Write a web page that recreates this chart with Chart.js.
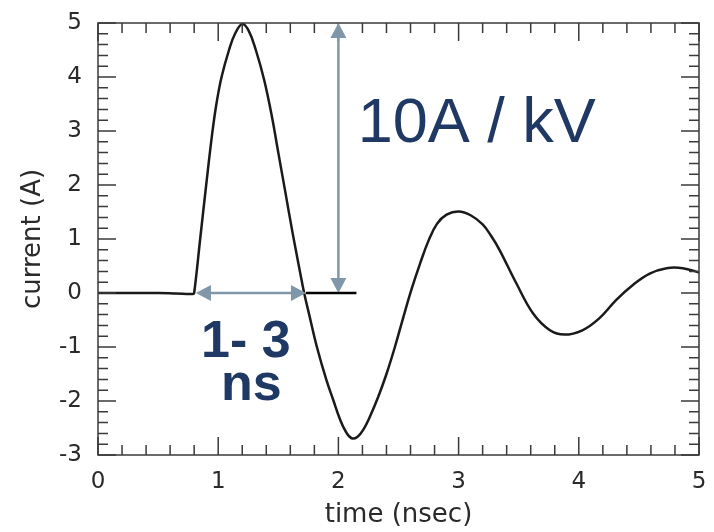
<!DOCTYPE html>
<html>
<head>
<meta charset="utf-8">
<script src="https://cdn.jsdelivr.net/npm/chart.js@4"></script>
<style>
  body { margin: 0; background: #ffffff; }
  #wrap { width: 714px; height: 532px; position: relative; }
</style>
</head>
<body>
<div id="wrap"><canvas id="pulse-chart"></canvas></div>
<script>
// time in nsec and current in A
const times = [
  0, 0.3, 0.5, 0.65, 0.79, 0.8, 0.85, 0.9, 0.95, 0.985, 1.028, 1.09, 1.14,
  1.2, 1.255, 1.313, 1.382, 1.444, 1.5, 1.56, 1.62, 1.68, 1.715, 1.757, 1.82,
  1.9, 1.96, 2.01, 2.06, 2.11, 2.16, 2.21, 2.26, 2.33, 2.4, 2.47, 2.54, 2.61, 2.68,
  2.75, 2.82, 2.9, 3.0, 3.1, 3.2, 3.27, 3.34, 3.48, 3.62, 3.76, 3.88, 4.03, 4.17, 4.31,
  4.45, 4.59, 4.73, 4.865, 5.0,
];
const currents = [
  0, 0, 0, -0.01, -0.02, 0, 1.0, 2.0, 2.95, 3.5, 4.0, 4.5, 4.8,
  4.98, 4.85, 4.5, 3.95, 3.3, 2.6, 1.85, 1.1, 0.4, 0, -0.4, -0.99,
  -1.61, -2.0, -2.32, -2.56, -2.69, -2.66, -2.52, -2.3, -1.93, -1.5, -1.0, -0.45, 0.08, 0.55,
  0.97, 1.28, 1.45, 1.51, 1.44, 1.27, 1.06, 0.8, 0.18, -0.38, -0.69, -0.77, -0.69, -0.47, -0.13,
  0.15, 0.36, 0.46, 0.46, 0.38,
];
const xTicks = [0, 1, 2, 3, 4, 5];
const yTicks = [-3, -2, -1, 0, 1, 2, 3, 4, 5];

const ink = "#1f3864";
const arrowColor = "#7f97a8";

// annotation anchors, in data units
const ampArrow = { x: 2.0, from: 5, to: 0 };
const riseArrow = { y: 0, from: 0.815, to: 1.73 };
const baseLine = { y: 0, from: 1.73, to: 2.15 };
const ampLabel = { text: "10A / kV", x: 2.16, y: 2.8 };
const riseLabel = [
  { text: "1- 3", x: 1.23, y: -1.185 },
  { text: "ns", x: 1.275, y: -1.98 },
];

function arrowHead(ctx, x, y, angle) {
  const len = 15;
  const half = 8;
  ctx.save();
  ctx.translate(x, y);
  ctx.rotate(angle);
  ctx.beginPath();
  ctx.moveTo(0, 0);
  ctx.lineTo(-len, -half);
  ctx.lineTo(-len, half);
  ctx.closePath();
  ctx.fill();
  ctx.restore();
}

function doubleArrow(ctx, x1, y1, x2, y2) {
  const angle = Math.atan2(y2 - y1, x2 - x1);
  const ux = Math.cos(angle) * 12;
  const uy = Math.sin(angle) * 12;
  ctx.beginPath();
  ctx.moveTo(x1 + ux, y1 + uy);
  ctx.lineTo(x2 - ux, y2 - uy);
  ctx.stroke();
  arrowHead(ctx, x2, y2, angle);
  arrowHead(ctx, x1, y1, angle + Math.PI);
}

const framePlugin = {
  id: "frame",
  afterDatasetsDraw(chart) {
    const { ctx, chartArea: a, scales } = chart;
    const sx = scales.x;
    const sy = scales.y;
    ctx.save();

    // box and inward ticks on all four sides
    ctx.strokeStyle = "#3a3a3a";
    ctx.lineWidth = 1.5;
    ctx.strokeRect(a.left, a.top, a.right - a.left, a.bottom - a.top);
    ctx.beginPath();
    const nx = Math.round((sx.max - sx.min) * 5);
    for (let i = 0; i <= nx; i++) {
      const px = sx.getPixelForValue(sx.min + i / 5);
      const len = i % 5 === 0 ? 18 : 10;
      ctx.moveTo(px, a.bottom);
      ctx.lineTo(px, a.bottom - len);
      ctx.moveTo(px, a.top);
      ctx.lineTo(px, a.top + len);
    }
    const ny = Math.round((sy.max - sy.min) * 5);
    for (let i = 0; i <= ny; i++) {
      const py = sy.getPixelForValue(sy.min + i / 5);
      const len = i % 5 === 0 ? 18 : 10;
      ctx.moveTo(a.left, py);
      ctx.lineTo(a.left + len, py);
      ctx.moveTo(a.right, py);
      ctx.lineTo(a.right - len, py);
    }
    ctx.stroke();

    // arrows
    ctx.strokeStyle = arrowColor;
    ctx.fillStyle = arrowColor;
    ctx.lineWidth = 2.5;
    const vx = sx.getPixelForValue(ampArrow.x);
    doubleArrow(ctx, vx, sy.getPixelForValue(ampArrow.to), vx, sy.getPixelForValue(ampArrow.from));
    const hy = sy.getPixelForValue(riseArrow.y);
    doubleArrow(ctx, sx.getPixelForValue(riseArrow.from), hy, sx.getPixelForValue(riseArrow.to), hy);

    ctx.strokeStyle = "#000000";
    ctx.beginPath();
    ctx.moveTo(sx.getPixelForValue(baseLine.from), sy.getPixelForValue(baseLine.y));
    ctx.lineTo(sx.getPixelForValue(baseLine.to), sy.getPixelForValue(baseLine.y));
    ctx.stroke();

    // labels
    ctx.fillStyle = ink;
    ctx.textBaseline = "alphabetic";
    ctx.textAlign = "left";
    ctx.font = "63px 'Liberation Sans', Arial, sans-serif";
    ctx.fillText(ampLabel.text, sx.getPixelForValue(ampLabel.x), sy.getPixelForValue(ampLabel.y));
    ctx.textAlign = "center";
    ctx.font = "bold 52px 'Liberation Sans', Arial, sans-serif";
    for (const line of riseLabel) {
      ctx.fillText(line.text, sx.getPixelForValue(line.x), sy.getPixelForValue(line.y));
    }
    ctx.restore();
  },
};

const tickFont = { family: "'DejaVu Sans', sans-serif", size: 23 };
const titleFont = { family: "'DejaVu Sans', sans-serif", size: 26 };

new Chart(document.getElementById("pulse-chart"), {
  type: "line",
  data: {
    datasets: [
      {
        data: times.map((t, i) => ({ x: t, y: currents[i] })),
        borderColor: "#1a1a1a",
        borderWidth: 2.5,
        pointRadius: 0,
        tension: 0.4,
        fill: false,
      },
    ],
  },
  options: {
    responsive: true,
    maintainAspectRatio: false,
    animation: false,
    layout: { padding: { top: 23, right: 15, bottom: 0, left: 0 } },
    plugins: { legend: { display: false }, tooltip: { enabled: false } },
    scales: {
      x: {
        type: "linear",
        min: 0,
        max: 5,
        afterBuildTicks: (scale) => {
          scale.ticks = xTicks.map((v) => ({ value: v }));
        },
        afterFit: (scale) => {
          scale.height = 77;
          scale.paddingLeft = 0;
          scale.paddingRight = 0;
        },
        grid: { display: false },
        border: { display: false },
        ticks: { color: "#2a2a2a", font: tickFont, padding: 5, maxRotation: 0 },
        title: {
          display: true,
          text: "time (nsec)",
          color: "#2a2a2a",
          font: titleFont,
          padding: { top: 0, bottom: 1 },
        },
      },
      y: {
        type: "linear",
        min: -3,
        max: 5,
        afterBuildTicks: (scale) => {
          scale.ticks = yTicks.map((v) => ({ value: v }));
        },
        afterFit: (scale) => {
          scale.width = 98;
          scale.paddingTop = 0;
          scale.paddingBottom = 0;
        },
        grid: { display: false },
        border: { display: false },
        ticks: { color: "#2a2a2a", font: tickFont, padding: 8 },
        title: {
          display: true,
          text: "current (A)",
          color: "#2a2a2a",
          font: titleFont,
          padding: { top: 18, bottom: 0 },
        },
      },
    },
  },
  plugins: [framePlugin],
});
</script>
</body>
</html>
